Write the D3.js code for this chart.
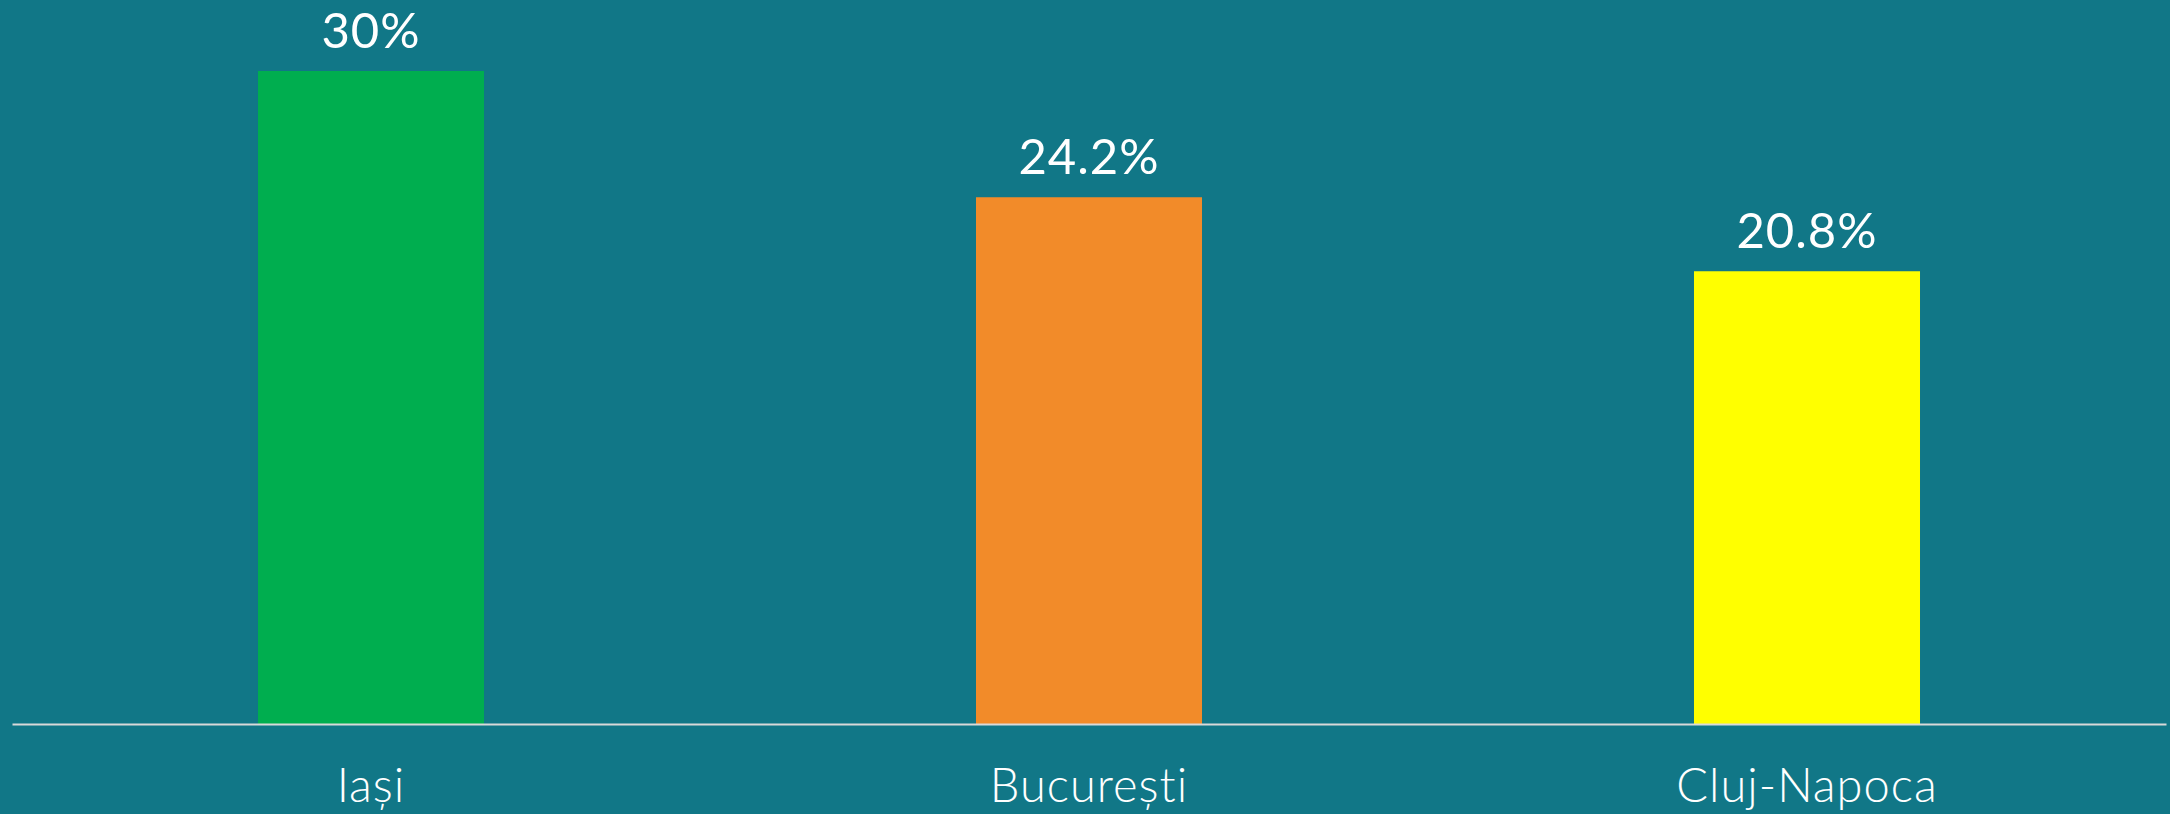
<!DOCTYPE html>
<html>
<head>
<meta charset="utf-8">
<script src="https://cdn.jsdelivr.net/npm/d3@7"></script>
<style>
  html, body { margin: 0; padding: 0; background: #117787; }
  svg { display: block; }
</style>
</head>
<body>
<svg id="chart" width="2170" height="814"></svg>
<script>
const categories = ["Iași", "București", "Cluj-Napoca"];
const values = [30, 24.2, 20.8];
const valueLabels = ["30%", "24.2%", "20.8%"];
const colors = ["#00AE4F", "#F28B29", "#FFFF00"];

const W = 2170, H = 814;
const svg = d3.select("#chart");
svg.append("rect").attr("width", W).attr("height", H).attr("fill", "#117787");

const x = d3.scaleBand().domain(categories).range([12, 2166]).paddingInner(0.6852).paddingOuter(0.3426);
const y = d3.scaleLinear().domain([0, d3.max(values)]).range([724, 71]);

const data = categories.map((c, i) => ({ c, v: values[i], label: valueLabels[i], color: colors[i] }));

svg.selectAll("rect.bar").data(data).enter().append("rect")
  .attr("class", "bar")
  .attr("x", d => x(d.c))
  .attr("y", d => y(d.v))
  .attr("width", x.bandwidth())
  .attr("height", d => y(0) - y(d.v))
  .attr("fill", d => d.color);

svg.selectAll("text.val").data(data).enter().append("text")
  .attr("class", "val")
  .attr("x", d => x(d.c) + x.bandwidth() / 2)
  .attr("y", d => y(d.v) - 23)
  .attr("text-anchor", "middle")
  .attr("fill", "#ffffff")
  .attr("font-family", "Lato, sans-serif")
  .attr("font-weight", 400)
  .attr("font-size", 49)
  .style("letter-spacing", "1px")
  .text(d => d.label);

const axis = d3.axisBottom(x).tickSize(0).tickPadding(0);
const g = svg.append("g").attr("transform", `translate(0,${y(0)})`).call(axis);
g.select(".domain").attr("stroke", "#D9D9D9").attr("stroke-width", 2);
g.selectAll(".tick text")
  .attr("fill", "#ffffff")
  .attr("font-family", "Lato, sans-serif")
  .attr("font-weight", 300)
  .attr("font-size", 47)
  .style("letter-spacing", "1px")
  .style("font-variant-ligatures", "none")
  .attr("dy", null)
  .attr("y", 78);
</script>
</body>
</html>
